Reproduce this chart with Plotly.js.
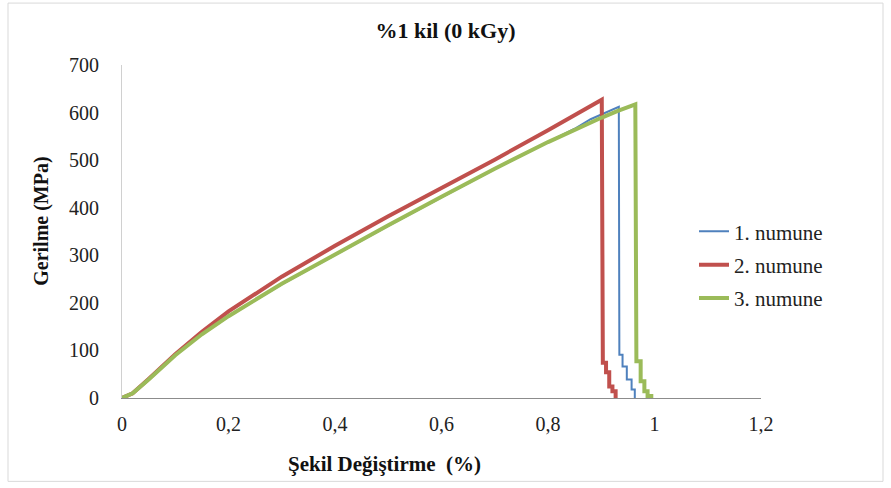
<!DOCTYPE html>
<html>
<head>
<meta charset="utf-8">
<script src="https://cdn.plot.ly/plotly-3.0.1.min.js"></script>
<style>html,body{margin:0;padding:0;background:#fff;}#chart{width:891px;height:488px;}</style>
</head>
<body>
<div id="chart"></div>
<script>
// Series 1. numune (blue)
const strain1 = [0, 0.02, 0.05, 0.1, 0.15, 0.2, 0.3, 0.4, 0.5, 0.6, 0.7, 0.8, 0.85, 0.88, 0.9, 0.933, 0.934, 0.940, 0.940, 0.948, 0.948, 0.957, 0.957, 0.963, 0.963];
const stress1 = [0, 10, 39, 90, 134, 171, 239, 301, 362, 422, 481, 538, 566, 586, 596, 612, 91, 91, 66, 66, 39, 39, 18, 18, 0];
// Series 2. numune (red)
const strain2 = [0, 0.02, 0.05, 0.1, 0.15, 0.2, 0.3, 0.4, 0.5, 0.6, 0.7, 0.8, 0.85, 0.901, 0.903, 0.909, 0.909, 0.915, 0.915, 0.921, 0.921, 0.927, 0.927];
const stress2 = [0, 10, 40, 92, 139, 182, 255, 320, 382, 441, 501, 563, 595, 627, 74, 74, 54, 54, 24, 24, 14, 14, 0];
// Series 3. numune (green)
const strain3 = [0, 0.02, 0.05, 0.1, 0.15, 0.2, 0.3, 0.4, 0.5, 0.6, 0.7, 0.8, 0.85, 0.9, 0.93, 0.964, 0.966, 0.974, 0.974, 0.981, 0.981, 0.987, 0.987, 0.994, 0.994];
const stress3 = [0, 10, 39, 90, 134, 172, 240, 302, 363, 423, 482, 538, 564, 589, 603, 617, 77, 77, 35, 35, 14, 14, 4, 4, 0];

const seriesNames = ["1. numune", "2. numune", "3. numune"];
const xTitle = "Şekil Değiştirme  (%)";
const yTitle = "Gerilme (MPa)";
const chartTitle = "%1 kil (0 kGy)";

const serif = "Liberation Serif, Times New Roman, serif";

const traces = [
  {x: strain1, y: stress1, name: seriesNames[0], legendgroup: "g1", mode: "lines", line: {color: "#4F81BD", width: 2}},
  {x: strain2, y: stress2, name: seriesNames[1], legendgroup: "g2", mode: "lines", line: {color: "#C0504D", width: 4}},
  {x: strain3, y: stress3, name: seriesNames[2], legendgroup: "g3", mode: "lines", line: {color: "#9BBB59", width: 4}}
];

const layout = {
  width: 891, height: 488,
  margin: {l: 122, r: 130, t: 65, b: 89.5},
  paper_bgcolor: "#fff", plot_bgcolor: "#fff",
  separators: ", ",
  font: {family: serif, size: 20, color: "#222"},
  title: {text: "<b>" + chartTitle + "</b>", font: {family: serif, size: 22, color: "#111"}, x: 0.5, xanchor: "center", y: 1 - 30/488, yanchor: "middle", yref: "container"},
  xaxis: {range: [0, 1.2], dtick: 0.2, tick0: 0, showgrid: false, zeroline: false, showline: true, linecolor: "#8c8c8c", linewidth: 1, ticks: "", ticklabelstandoff: 8, tickfont: {family: serif, size: 20, color: "#222"}, fixedrange: true},
  yaxis: {range: [0, 700], dtick: 100, tick0: 0, showgrid: false, zeroline: false, showline: true, linecolor: "#d0d0d0", linewidth: 1, ticks: "", ticklabelstandoff: 18, tickfont: {family: serif, size: 20, color: "#222"}, fixedrange: true},
  showlegend: true,
  legend: {x: (694-122)/639, xanchor: "left", y: (398.5-265)/333.5, yanchor: "middle", tracegroupgap: 3, font: {family: serif, size: 21, color: "#222"}, bgcolor: "rgba(0,0,0,0)"},
  annotations: [
    {text: "<b>" + xTitle + "</b>", xref: "paper", yref: "paper", x: (384-122)/639, y: (398.5-465)/333.5, xanchor: "center", yanchor: "middle", showarrow: false, font: {family: serif, size: 21, color: "#111"}},
    {text: "<b>" + yTitle + "</b>", xref: "paper", yref: "paper", x: (42-122)/639, y: (398.5-222)/333.5, xanchor: "center", yanchor: "middle", textangle: -90, showarrow: false, font: {family: serif, size: 20, color: "#111"}}
  ],
  shapes: [
    {type: "rect", xref: "paper", yref: "paper", x0: (8-122)/639, x1: (883-122)/639, y0: (398.5-482)/333.5, y1: (398.5-3)/333.5, line: {color: "#d9d9d9", width: 1}, fillcolor: "rgba(0,0,0,0)", layer: "below"}
  ]
};

Plotly.newPlot("chart", traces, layout, {displayModeBar: false, staticPlot: true});
</script>
</body>
</html>
